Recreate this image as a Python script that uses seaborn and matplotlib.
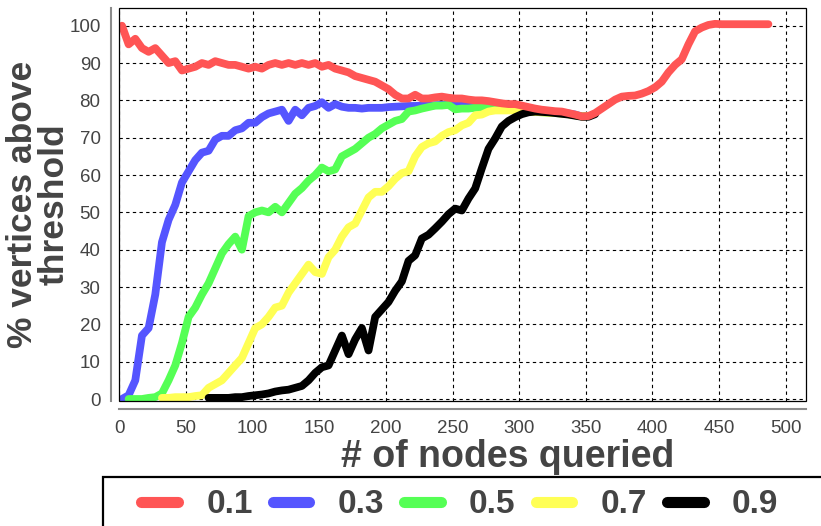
import numpy as np
import pandas as pd
import matplotlib
matplotlib.use("Agg")
import matplotlib.pyplot as plt
from matplotlib.lines import Line2D
from matplotlib.patches import Rectangle
import seaborn as sns

nan = np.nan

# ---- data ----
labels = ["0.1", "0.3", "0.5", "0.7", "0.9"]
colors = ["#FF5555", "#5555FF", "#55FF55", "#FFFF55", "#000000"]
x_start = 2
x_step = 5

y_01 = [100, 95, 96.5, 94, 93, 94, 92, 90, 90.5, 88, 88.5, 89, 90, 89.5, 90.5, 90,
        89.5, 89.5, 89, 88.5, 89, 88.5, 89.5, 90, 89.5, 90, 89.5, 90, 89.5, 90, 89,
        89.5, 88.5, 88, 87.5, 86.5, 86, 85.5, 85, 84, 83, 81.5, 80.5, 80.5, 81.5, 80.5,
        80.5, 80.8, 81, 80.7, 80.5, 80.5, 80.2, 80, 80, 79.8, 79.5, 79.2, 79, 79, 78.6,
        78.2, 77.8, 77.5, 77.3, 77.1, 77, 76.6, 76.2, 75.7, 75.8, 76.6, 77.8, 79, 80.2,
        81, 81.2, 81.3, 81.8, 82.5, 83.5, 85, 87.5, 89.5, 91, 95, 98.5, 99.5, 100.2,
        100.5, 100.4, 100.4, 100.4, 100.4, 100.4, 100.4, 100.4, 100.4]

y_03 = [0, 1, 5, 17, 19, 28, 42, 48, 52, 58, 61, 64, 66, 66.5, 69.5, 70.5, 70.5, 72,
        72.5, 74, 74, 75.5, 76.5, 77, 77.5, 74.5, 77.5, 76, 78, 78.5, 79.5, 78, 79,
        78.3, 78, 78, 77.8, 78, 78, 78, 78.2, 78.3, 78.4, 78.5, 78.5, 78.6, 78.6, 78.7,
        78.8, 79, 78.8, 78.6, 78.5, 78.3, 78, 78, 78, 78, 77.8, 77.6, 77.4, 77.2, 77,
        76.9, 76.8, 76.8, 76.7, 76.5, 76.2, 75.7, 75.8]

y_05 = [nan, 0, 0, 0, 0.3, 0.5, 1.5, 5, 9, 15, 22, 24.5, 28, 31, 35, 39, 41.5, 43.5,
        40, 49, 50, 50.5, 50, 51.5, 50, 52.5, 55, 56.5, 58.5, 60, 62, 61, 61.5, 65, 66,
        67, 68.5, 70, 71, 72.5, 73.5, 74.5, 75, 77, 77.3, 77.8, 78.2, 78.6, 78.6, 78.8,
        77.6, 77.8, 77.8, 78, 78.2, 78, 77.8, 77.8, 77.6, 77.4, 77.2, 77, 76.9, 76.8,
        76.7, 76.6, 76.5, 76.3, 76, 75.7, 75.8]

y_07 = [nan, nan, nan, nan, nan, nan, 0.3, 0.3, 0.5, 0.5, 0.5, 0.8, 1, 3, 4, 5, 7, 9,
        11, 15, 19, 20, 22, 24.5, 25, 28.5, 31, 33.5, 36, 34, 33.5, 38, 40, 43.5, 46,
        47, 50.5, 54, 55.5, 55.5, 57, 59, 60.5, 61, 65, 67.5, 68.5, 69, 70.5, 71.5, 72,
        73.3, 74, 76, 76.2, 77, 77.3, 77.3, 77.3, 77.3, 77.2, 77, 76.9, 76.8, 76.7,
        76.6, 76.5, 76.3, 76, 75.7, 75.8]

y_09 = [nan, nan, nan, nan, nan, nan, nan, nan, nan, nan, nan, nan, nan, 0.3, 0.3, 0.3,
        0.3, 0.5, 0.5, 0.8, 1, 1.2, 1.5, 2, 2.3, 2.5, 3, 3.5, 5, 7, 8.5, 9, 13, 17, 12,
        16, 19, 13, 22, 24, 26, 29, 31.5, 37, 38.5, 43, 44, 45.7, 47.5, 49.5, 51, 50.5,
        53.7, 56.4, 61.8, 67, 69.8, 73, 74.5, 75.5, 76.3, 76.8, 77, 76.9, 76.8, 76.6,
        76.4, 76.2, 75.9, 75.6, 75.6, 76.3]

series = [y_01, y_03, y_05, y_07, y_09]

x_ticks = list(range(0, 501, 50))
y_ticks = list(range(0, 101, 10))

# ---- long-form table ----
frames = []
for lab, ys in zip(labels, series):
    xs = x_start + x_step * np.arange(len(ys))
    frames.append(pd.DataFrame({"x": xs, "y": ys, "threshold": lab}))
df = pd.concat(frames, ignore_index=True)

# ---- style ----
sns.set_style("white")
plt.rcParams["font.family"] = ["Liberation Sans", "DejaVu Sans"]
text_col = "#444444"
gray = "#8c8c8c"

fig = plt.figure(figsize=(8.21, 5.26), dpi=100)
ax = fig.add_axes([0.1453, 0.2376, 0.8364, 0.7466])

# draw order: 0.3, 0.5, 0.7, 0.9 then 0.1 on top
draw_order = ["0.3", "0.5", "0.7", "0.9", "0.1"]
pal = dict(zip(labels, colors))
for z, lab in enumerate(draw_order):
    sub = df[df["threshold"] == lab].dropna()
    sns.lineplot(data=sub, x="x", y="y", color=pal[lab], lw=5.6, ax=ax,
                 estimator=None, sort=False, legend=False, zorder=3 + z,
                 solid_capstyle="round", solid_joinstyle="round")

ax.set_xlim(0, 515.2)
ax.set_ylim(-0.54, 104.66)
ax.set_xticks(x_ticks)
ax.set_yticks(y_ticks)
ax.grid(True, color="black", linestyle=(0, (3, 3)), lw=0.8)
ax.set_axisbelow(True)

for s in ["top", "right"]:
    ax.spines[s].set_visible(False)
for s in ["left", "bottom"]:
    ax.spines[s].set_position(("outward", 6))
    ax.spines[s].set_color(gray)
    ax.spines[s].set_linewidth(1.5)
ax.tick_params(axis="both", direction="out", length=4, width=1.2, color=gray,
               labelsize=13.5, labelcolor=text_col, pad=3.5)

ax.add_patch(Rectangle((0, 0), 1, 1, transform=ax.transAxes, fill=False,
                       ec="black", lw=0.9, clip_on=False, zorder=20))

ax.set_xlabel("# of nodes queried", fontsize=27, fontweight="bold", color=text_col)
ax.xaxis.set_label_coords(0.565, -0.168)
ax.xaxis.label.set_va("baseline")
ax.set_ylabel("% vertices above\nthreshold", fontsize=25.5, fontweight="bold",
              color=text_col, linespacing=0.92)
ax.yaxis.set_label_coords(-0.118, 0.5)
ax.yaxis.label.set_va("center")

# ---- legend ----
handles = [Line2D([0], [0], color=c, lw=8, solid_capstyle="round") for c in colors]
leg = fig.legend(handles, labels, loc="center", bbox_to_anchor=(0.5600, 0.040),
                 ncol=5, frameon=False, handlelength=1.1, handletextpad=0.85,
                 columnspacing=0.6, borderpad=0,
                 prop={"size": 24, "weight": "bold"})
for t in leg.get_texts():
    t.set_color(text_col)
fig.add_artist(Rectangle((103 / 821, -0.01), (830 - 103) / 821, (530 - 476) / 526 + 0.0,
                         transform=fig.transFigure, fill=False, ec="black", lw=1.6,
                         clip_on=False))

fig.savefig("out.png", dpi=100)
